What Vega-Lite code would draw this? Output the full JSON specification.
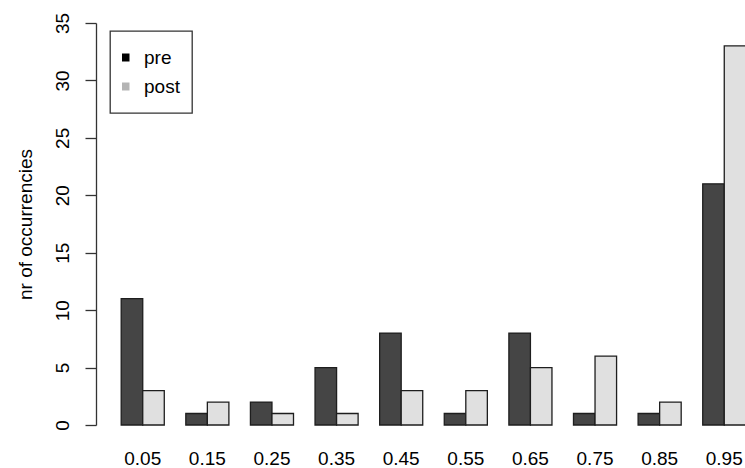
{
  "$schema": "https://vega.github.io/schema/vega-lite/v6.json",
  "width": 649,
  "height": 402,
  "autosize": {"type": "none"},
  "padding": {"left": 96, "top": 23, "right": 0, "bottom": 43},
  "background": "white",
  "config": {"view": {"stroke": null}, "font": "Liberation Sans"},
  "data": {
    "values": [
      {"bin": "0.05", "when": "pre", "count": 11},
      {"bin": "0.05", "when": "post", "count": 3},
      {"bin": "0.15", "when": "pre", "count": 1},
      {"bin": "0.15", "when": "post", "count": 2},
      {"bin": "0.25", "when": "pre", "count": 2},
      {"bin": "0.25", "when": "post", "count": 1},
      {"bin": "0.35", "when": "pre", "count": 5},
      {"bin": "0.35", "when": "post", "count": 1},
      {"bin": "0.45", "when": "pre", "count": 8},
      {"bin": "0.45", "when": "post", "count": 3},
      {"bin": "0.55", "when": "pre", "count": 1},
      {"bin": "0.55", "when": "post", "count": 3},
      {"bin": "0.65", "when": "pre", "count": 8},
      {"bin": "0.65", "when": "post", "count": 5},
      {"bin": "0.75", "when": "pre", "count": 1},
      {"bin": "0.75", "when": "post", "count": 6},
      {"bin": "0.85", "when": "pre", "count": 1},
      {"bin": "0.85", "when": "post", "count": 2},
      {"bin": "0.95", "when": "pre", "count": 21},
      {"bin": "0.95", "when": "post", "count": 33}
    ]
  },
  "encoding": {
    "x": {
      "field": "bin",
      "type": "nominal",
      "sort": null,
      "scale": {"paddingInner": 0.3333, "paddingOuter": 0.39, "range": [0, 675]},
      "axis": {
        "title": null,
        "labelAngle": 0,
        "ticks": false,
        "tickSize": 0,
        "domain": false,
        "labelPadding": 39,
        "labelBaseline": "alphabetic",
        "labelFontSize": 19,
        "labelColor": "#000000",
        "labelFont": "Liberation Sans"
      }
    },
    "xOffset": {
      "field": "when",
      "type": "nominal",
      "sort": ["pre", "post"],
      "scale": {"paddingInner": 0, "paddingOuter": 0}
    },
    "y": {
      "field": "count",
      "type": "quantitative",
      "scale": {"domain": [0, 35], "nice": false, "zero": true},
      "axis": {
        "values": [0, 5, 10, 15, 20, 25, 30, 35],
        "grid": false,
        "title": "nr of occurrencies",
        "titleFont": "Liberation Sans",
        "titleFontSize": 19,
        "titleFontWeight": "normal",
        "titleColor": "#000000",
        "titleAngle": 270,
        "titleAlign": "center",
        "titleBaseline": "alphabetic",
        "titleX": -65,
        "titleY": 201,
        "domainColor": "#333333",
        "domainWidth": 1.3,
        "tickColor": "#333333",
        "tickWidth": 1.3,
        "tickSize": 11,
        "labelAngle": 270,
        "labelAlign": "center",
        "labelBaseline": "alphabetic",
        "labelPadding": 17,
        "labelFontSize": 19,
        "labelColor": "#000000",
        "labelFont": "Liberation Sans"
      }
    }
  },
  "layer": [
    {
      "mark": {"type": "bar", "stroke": "#1e1e1e", "strokeWidth": 1.3, "clip": false},
      "encoding": {
        "fill": {
          "field": "when",
          "type": "nominal",
          "sort": ["pre", "post"],
          "scale": {"domain": ["pre", "post"], "range": ["#454545", "#e0e0e0"]},
          "legend": null
        }
      }
    },
    {
      "mark": {"type": "square", "size": 0, "filled": true, "opacity": 0},
      "encoding": {
        "fill": {
          "field": "when",
          "type": "nominal",
          "sort": ["pre", "post"],
          "scale": {"domain": ["pre", "post"], "range": ["#000000", "#b4b4b4"]},
          "legend": {
            "title": null,
            "orient": "none",
            "legendX": 14,
            "legendY": 8,
            "padding": 12,
            "strokeColor": "#333333",
            "symbolType": "square",
            "symbolSize": 64,
            "symbolOpacity": 1,
            "symbolStrokeWidth": 0,
            "symbolOffset": -6,
            "labelFontSize": 19,
            "labelFont": "Liberation Sans",
            "labelColor": "#000000",
            "labelOffset": 9,
            "clipHeight": 29,
            "rowPadding": 0,
            "encode": {
              "legend": {"update": {"strokeWidth": {"value": 1.3}}},
              "symbols": {"update": {"opacity": {"value": 1}}}
            }
          }
        }
      }
    }
  ],
  "resolve": {"scale": {"fill": "independent"}, "legend": {"fill": "independent"}}
}
